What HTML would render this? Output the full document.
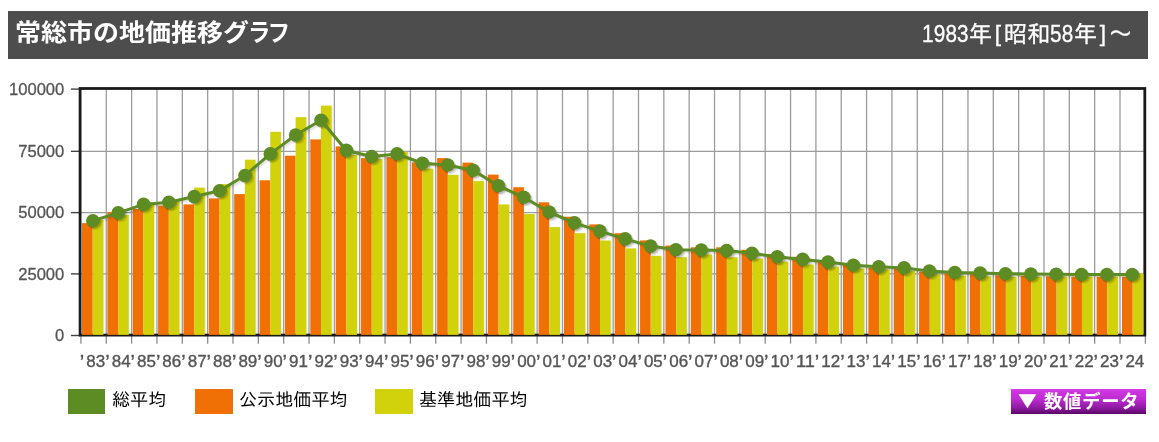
<!DOCTYPE html>
<html lang="ja">
<head>
<meta charset="utf-8">
<title>常総市の地価推移グラフ</title>
<style>
html,body{margin:0;padding:0;background:#fff;}
body{width:1159px;height:442px;position:relative;overflow:hidden;font-family:"Liberation Sans","Noto Sans CJK JP",sans-serif;}
#hd{position:absolute;left:8px;top:11px;width:1140px;height:48px;background:#4d4d4d;color:#fff;}
#hd h2{position:absolute;left:7px;top:-1.6px;transform:scale(1.0,0.925);transform-origin:0 50%;margin:0;font-size:26px;line-height:48px;font-weight:bold;white-space:nowrap;font-family:"Liberation Sans","Noto Sans CJK JP",sans-serif;}
#hd .yr{-webkit-text-stroke:0.35px #fff;position:absolute;right:16px;top:-1px;font-size:23.33px;line-height:48px;white-space:nowrap;font-family:"Liberation Sans","IPAGothic","Noto Sans CJK JP",sans-serif;}
#hd .yr b{font-weight:normal;display:inline-block;white-space:nowrap;}
#hd .yr b.d{font-size:24.4px;transform:scaleX(0.85);transform-origin:0 50%;letter-spacing:0.2px;}
#hd .yr b.k{width:11.67px;text-align:center;font-size:22.6px;position:relative;top:-1.4px;}
.lg{position:absolute;top:389px;height:25px;}
.lg i{position:absolute;left:0;top:0;width:38px;height:25px;display:block;}
.lg span{position:absolute;left:44px;top:-1.5px;line-height:25px;font-size:18.1px;color:#000;white-space:nowrap;font-family:"Liberation Sans","IPAGothic","Noto Sans CJK JP",sans-serif;}
#btn{position:absolute;left:1011px;top:389px;width:135px;height:25px;background:linear-gradient(#d63ee8 0%,#cc34de 12%,#bd2dd0 40%,#a222b6 60%,#8a1a9c 78%,#6a0c78 92%,#5a0666 100%);color:#fff;font-weight:bold;font-size:18.3px;line-height:25px;white-space:nowrap;font-family:"Liberation Sans","Noto Sans CJK JP",sans-serif;}
#btn .t{position:absolute;left:8.3px;top:-1.2px;width:17px;text-align:center;font-size:17px;transform:scale(1.78,1.42);}
#btn .s{position:absolute;left:33px;top:0.2px;letter-spacing:0.8px;}
</style>
</head>
<body>
<div id="hd"><h2>常総市の地価推移グ<span style="display:inline-block;margin-left:-1px;letter-spacing:-3px;transform:scaleX(0.86);transform-origin:0 50%">ラフ</span></h2><div class="yr"><b class="d" style="width:46.67px">1983</b>年<b class="k">[</b>昭和<b class="d" style="width:23.33px">58</b>年<b class="k">]</b>～</div></div>
<svg width="1159" height="442" viewBox="0 0 1159 442" style="position:absolute;left:0;top:0">
<g stroke="#9c9c9c" stroke-width="1.3" fill="none">
<line x1="106.29" y1="88.5" x2="106.29" y2="335.1"/>
<line x1="131.64" y1="88.5" x2="131.64" y2="335.1"/>
<line x1="156.98" y1="88.5" x2="156.98" y2="335.1"/>
<line x1="182.32" y1="88.5" x2="182.32" y2="335.1"/>
<line x1="207.67" y1="88.5" x2="207.67" y2="335.1"/>
<line x1="233.01" y1="88.5" x2="233.01" y2="335.1"/>
<line x1="258.35" y1="88.5" x2="258.35" y2="335.1"/>
<line x1="283.69" y1="88.5" x2="283.69" y2="335.1"/>
<line x1="309.04" y1="88.5" x2="309.04" y2="335.1"/>
<line x1="334.38" y1="88.5" x2="334.38" y2="335.1"/>
<line x1="359.72" y1="88.5" x2="359.72" y2="335.1"/>
<line x1="385.07" y1="88.5" x2="385.07" y2="335.1"/>
<line x1="410.41" y1="88.5" x2="410.41" y2="335.1"/>
<line x1="435.75" y1="88.5" x2="435.75" y2="335.1"/>
<line x1="461.09" y1="88.5" x2="461.09" y2="335.1"/>
<line x1="486.44" y1="88.5" x2="486.44" y2="335.1"/>
<line x1="511.78" y1="88.5" x2="511.78" y2="335.1"/>
<line x1="537.12" y1="88.5" x2="537.12" y2="335.1"/>
<line x1="562.47" y1="88.5" x2="562.47" y2="335.1"/>
<line x1="587.81" y1="88.5" x2="587.81" y2="335.1"/>
<line x1="613.15" y1="88.5" x2="613.15" y2="335.1"/>
<line x1="638.50" y1="88.5" x2="638.50" y2="335.1"/>
<line x1="663.84" y1="88.5" x2="663.84" y2="335.1"/>
<line x1="689.18" y1="88.5" x2="689.18" y2="335.1"/>
<line x1="714.53" y1="88.5" x2="714.53" y2="335.1"/>
<line x1="739.87" y1="88.5" x2="739.87" y2="335.1"/>
<line x1="765.21" y1="88.5" x2="765.21" y2="335.1"/>
<line x1="790.55" y1="88.5" x2="790.55" y2="335.1"/>
<line x1="815.90" y1="88.5" x2="815.90" y2="335.1"/>
<line x1="841.24" y1="88.5" x2="841.24" y2="335.1"/>
<line x1="866.58" y1="88.5" x2="866.58" y2="335.1"/>
<line x1="891.93" y1="88.5" x2="891.93" y2="335.1"/>
<line x1="917.27" y1="88.5" x2="917.27" y2="335.1"/>
<line x1="942.61" y1="88.5" x2="942.61" y2="335.1"/>
<line x1="967.96" y1="88.5" x2="967.96" y2="335.1"/>
<line x1="993.30" y1="88.5" x2="993.30" y2="335.1"/>
<line x1="1018.64" y1="88.5" x2="1018.64" y2="335.1"/>
<line x1="1043.98" y1="88.5" x2="1043.98" y2="335.1"/>
<line x1="1069.33" y1="88.5" x2="1069.33" y2="335.1"/>
<line x1="1094.67" y1="88.5" x2="1094.67" y2="335.1"/>
<line x1="1120.01" y1="88.5" x2="1120.01" y2="335.1"/>
<line x1="80.1" y1="151.30" x2="1144.8" y2="151.30"/>
<line x1="80.1" y1="212.60" x2="1144.8" y2="212.60"/>
<line x1="80.1" y1="273.90" x2="1144.8" y2="273.90"/>
</g>
<g stroke="#8c8c8c" stroke-width="1.3" fill="none">
<line x1="80.95" y1="335.1" x2="80.95" y2="343.7"/>
<line x1="106.29" y1="335.1" x2="106.29" y2="343.7"/>
<line x1="131.64" y1="335.1" x2="131.64" y2="343.7"/>
<line x1="156.98" y1="335.1" x2="156.98" y2="343.7"/>
<line x1="182.32" y1="335.1" x2="182.32" y2="343.7"/>
<line x1="207.67" y1="335.1" x2="207.67" y2="343.7"/>
<line x1="233.01" y1="335.1" x2="233.01" y2="343.7"/>
<line x1="258.35" y1="335.1" x2="258.35" y2="343.7"/>
<line x1="283.69" y1="335.1" x2="283.69" y2="343.7"/>
<line x1="309.04" y1="335.1" x2="309.04" y2="343.7"/>
<line x1="334.38" y1="335.1" x2="334.38" y2="343.7"/>
<line x1="359.72" y1="335.1" x2="359.72" y2="343.7"/>
<line x1="385.07" y1="335.1" x2="385.07" y2="343.7"/>
<line x1="410.41" y1="335.1" x2="410.41" y2="343.7"/>
<line x1="435.75" y1="335.1" x2="435.75" y2="343.7"/>
<line x1="461.09" y1="335.1" x2="461.09" y2="343.7"/>
<line x1="486.44" y1="335.1" x2="486.44" y2="343.7"/>
<line x1="511.78" y1="335.1" x2="511.78" y2="343.7"/>
<line x1="537.12" y1="335.1" x2="537.12" y2="343.7"/>
<line x1="562.47" y1="335.1" x2="562.47" y2="343.7"/>
<line x1="587.81" y1="335.1" x2="587.81" y2="343.7"/>
<line x1="613.15" y1="335.1" x2="613.15" y2="343.7"/>
<line x1="638.50" y1="335.1" x2="638.50" y2="343.7"/>
<line x1="663.84" y1="335.1" x2="663.84" y2="343.7"/>
<line x1="689.18" y1="335.1" x2="689.18" y2="343.7"/>
<line x1="714.53" y1="335.1" x2="714.53" y2="343.7"/>
<line x1="739.87" y1="335.1" x2="739.87" y2="343.7"/>
<line x1="765.21" y1="335.1" x2="765.21" y2="343.7"/>
<line x1="790.55" y1="335.1" x2="790.55" y2="343.7"/>
<line x1="815.90" y1="335.1" x2="815.90" y2="343.7"/>
<line x1="841.24" y1="335.1" x2="841.24" y2="343.7"/>
<line x1="866.58" y1="335.1" x2="866.58" y2="343.7"/>
<line x1="891.93" y1="335.1" x2="891.93" y2="343.7"/>
<line x1="917.27" y1="335.1" x2="917.27" y2="343.7"/>
<line x1="942.61" y1="335.1" x2="942.61" y2="343.7"/>
<line x1="967.96" y1="335.1" x2="967.96" y2="343.7"/>
<line x1="993.30" y1="335.1" x2="993.30" y2="343.7"/>
<line x1="1018.64" y1="335.1" x2="1018.64" y2="343.7"/>
<line x1="1043.98" y1="335.1" x2="1043.98" y2="343.7"/>
<line x1="1069.33" y1="335.1" x2="1069.33" y2="343.7"/>
<line x1="1094.67" y1="335.1" x2="1094.67" y2="343.7"/>
<line x1="1120.01" y1="335.1" x2="1120.01" y2="343.7"/>
<line x1="1145.36" y1="335.1" x2="1145.36" y2="343.7"/>
</g>
<g stroke="#444" stroke-width="1.4" fill="none">
<line x1="70.9" y1="89.10" x2="80.1" y2="89.10"/>
<line x1="70.9" y1="151.30" x2="80.1" y2="151.30"/>
<line x1="70.9" y1="212.60" x2="80.1" y2="212.60"/>
<line x1="70.9" y1="273.90" x2="80.1" y2="273.90"/>
<line x1="70.9" y1="335.50" x2="80.1" y2="335.50"/>
</g>
<rect x="80.10" y="88.50" width="1064.70" height="246.60" fill="none" stroke="#1a1a1a" stroke-width="2.8"/>
<g>
<rect x="93.90" y="221.0" width="10.70" height="113.9" fill="#000" opacity="0.06"/>
<rect x="82.00" y="223.1" width="10.70" height="111.8" fill="#f07006"/>
<rect x="92.70" y="219.8" width="10.70" height="115.1" fill="#d2d20c"/>
<rect x="119.27" y="216.1" width="10.70" height="118.8" fill="#000" opacity="0.06"/>
<rect x="107.37" y="212.0" width="10.70" height="122.9" fill="#f07006"/>
<rect x="118.07" y="214.9" width="10.70" height="120.0" fill="#d2d20c"/>
<rect x="144.63" y="203.8" width="10.70" height="131.1" fill="#000" opacity="0.06"/>
<rect x="132.73" y="209.0" width="10.70" height="125.9" fill="#f07006"/>
<rect x="143.43" y="202.6" width="10.70" height="132.3" fill="#d2d20c"/>
<rect x="170.00" y="201.1" width="10.70" height="133.8" fill="#000" opacity="0.06"/>
<rect x="158.10" y="205.7" width="10.70" height="129.2" fill="#f07006"/>
<rect x="168.80" y="199.9" width="10.70" height="135.0" fill="#d2d20c"/>
<rect x="195.36" y="188.8" width="10.70" height="146.1" fill="#000" opacity="0.06"/>
<rect x="183.46" y="204.4" width="10.70" height="130.5" fill="#f07006"/>
<rect x="194.16" y="187.6" width="10.70" height="147.3" fill="#d2d20c"/>
<rect x="220.73" y="185.3" width="10.70" height="149.6" fill="#000" opacity="0.06"/>
<rect x="208.83" y="198.4" width="10.70" height="136.5" fill="#f07006"/>
<rect x="219.53" y="184.1" width="10.70" height="150.8" fill="#d2d20c"/>
<rect x="246.10" y="160.9" width="10.70" height="174.0" fill="#000" opacity="0.06"/>
<rect x="234.20" y="194.1" width="10.70" height="140.8" fill="#f07006"/>
<rect x="244.90" y="159.7" width="10.70" height="175.2" fill="#d2d20c"/>
<rect x="271.46" y="133.0" width="10.70" height="201.9" fill="#000" opacity="0.06"/>
<rect x="259.56" y="180.3" width="10.70" height="154.6" fill="#f07006"/>
<rect x="270.26" y="131.8" width="10.70" height="203.1" fill="#d2d20c"/>
<rect x="296.83" y="118.3" width="10.70" height="216.6" fill="#000" opacity="0.06"/>
<rect x="284.93" y="155.7" width="10.70" height="179.2" fill="#f07006"/>
<rect x="295.63" y="117.1" width="10.70" height="217.8" fill="#d2d20c"/>
<rect x="322.19" y="106.8" width="10.70" height="228.1" fill="#000" opacity="0.06"/>
<rect x="310.29" y="139.4" width="10.70" height="195.5" fill="#f07006"/>
<rect x="320.99" y="105.6" width="10.70" height="229.3" fill="#d2d20c"/>
<rect x="347.56" y="156.2" width="10.70" height="178.7" fill="#000" opacity="0.06"/>
<rect x="335.66" y="146.4" width="10.70" height="188.5" fill="#f07006"/>
<rect x="346.36" y="155.0" width="10.70" height="179.9" fill="#d2d20c"/>
<rect x="372.93" y="160.2" width="10.70" height="174.7" fill="#000" opacity="0.06"/>
<rect x="361.03" y="158.1" width="10.70" height="176.8" fill="#f07006"/>
<rect x="371.73" y="159.0" width="10.70" height="175.9" fill="#d2d20c"/>
<rect x="398.29" y="152.9" width="10.70" height="182.0" fill="#000" opacity="0.06"/>
<rect x="386.39" y="157.2" width="10.70" height="177.7" fill="#f07006"/>
<rect x="397.09" y="151.7" width="10.70" height="183.2" fill="#d2d20c"/>
<rect x="423.66" y="169.8" width="10.70" height="165.1" fill="#000" opacity="0.06"/>
<rect x="411.76" y="162.3" width="10.70" height="172.6" fill="#f07006"/>
<rect x="422.46" y="168.6" width="10.70" height="166.3" fill="#d2d20c"/>
<rect x="449.02" y="176.0" width="10.70" height="158.9" fill="#000" opacity="0.06"/>
<rect x="437.12" y="158.1" width="10.70" height="176.8" fill="#f07006"/>
<rect x="447.82" y="174.8" width="10.70" height="160.1" fill="#d2d20c"/>
<rect x="474.39" y="182.3" width="10.70" height="152.6" fill="#000" opacity="0.06"/>
<rect x="462.49" y="162.6" width="10.70" height="172.3" fill="#f07006"/>
<rect x="473.19" y="181.1" width="10.70" height="153.8" fill="#d2d20c"/>
<rect x="499.76" y="205.6" width="10.70" height="129.3" fill="#000" opacity="0.06"/>
<rect x="487.86" y="174.6" width="10.70" height="160.3" fill="#f07006"/>
<rect x="498.56" y="204.4" width="10.70" height="130.5" fill="#d2d20c"/>
<rect x="525.12" y="215.2" width="10.70" height="119.7" fill="#000" opacity="0.06"/>
<rect x="513.22" y="187.2" width="10.70" height="147.7" fill="#f07006"/>
<rect x="523.92" y="214.0" width="10.70" height="120.9" fill="#d2d20c"/>
<rect x="550.49" y="228.3" width="10.70" height="106.6" fill="#000" opacity="0.06"/>
<rect x="538.59" y="202.3" width="10.70" height="132.6" fill="#f07006"/>
<rect x="549.29" y="227.1" width="10.70" height="107.8" fill="#d2d20c"/>
<rect x="575.85" y="234.3" width="10.70" height="100.6" fill="#000" opacity="0.06"/>
<rect x="563.95" y="216.7" width="10.70" height="118.2" fill="#f07006"/>
<rect x="574.65" y="233.1" width="10.70" height="101.8" fill="#d2d20c"/>
<rect x="601.22" y="241.7" width="10.70" height="93.2" fill="#000" opacity="0.06"/>
<rect x="589.32" y="224.4" width="10.70" height="110.5" fill="#f07006"/>
<rect x="600.02" y="240.5" width="10.70" height="94.4" fill="#d2d20c"/>
<rect x="626.59" y="249.6" width="10.70" height="85.3" fill="#000" opacity="0.06"/>
<rect x="614.69" y="233.2" width="10.70" height="101.7" fill="#f07006"/>
<rect x="625.39" y="248.4" width="10.70" height="86.5" fill="#d2d20c"/>
<rect x="651.95" y="257.0" width="10.70" height="77.9" fill="#000" opacity="0.06"/>
<rect x="640.05" y="240.4" width="10.70" height="94.5" fill="#f07006"/>
<rect x="650.75" y="255.8" width="10.70" height="79.1" fill="#d2d20c"/>
<rect x="677.32" y="258.4" width="10.70" height="76.5" fill="#000" opacity="0.06"/>
<rect x="665.42" y="245.5" width="10.70" height="89.4" fill="#f07006"/>
<rect x="676.12" y="257.2" width="10.70" height="77.7" fill="#d2d20c"/>
<rect x="702.68" y="255.7" width="10.70" height="79.2" fill="#000" opacity="0.06"/>
<rect x="690.78" y="247.3" width="10.70" height="87.6" fill="#f07006"/>
<rect x="701.48" y="254.5" width="10.70" height="80.4" fill="#d2d20c"/>
<rect x="728.05" y="258.4" width="10.70" height="76.5" fill="#000" opacity="0.06"/>
<rect x="716.15" y="247.3" width="10.70" height="87.6" fill="#f07006"/>
<rect x="726.85" y="257.2" width="10.70" height="77.7" fill="#d2d20c"/>
<rect x="753.42" y="259.7" width="10.70" height="75.2" fill="#000" opacity="0.06"/>
<rect x="741.52" y="249.8" width="10.70" height="85.1" fill="#f07006"/>
<rect x="752.22" y="258.5" width="10.70" height="76.4" fill="#d2d20c"/>
<rect x="778.78" y="262.7" width="10.70" height="72.2" fill="#000" opacity="0.06"/>
<rect x="766.88" y="254.0" width="10.70" height="80.9" fill="#f07006"/>
<rect x="777.58" y="261.5" width="10.70" height="73.4" fill="#d2d20c"/>
<rect x="804.15" y="265.7" width="10.70" height="69.2" fill="#000" opacity="0.06"/>
<rect x="792.25" y="256.8" width="10.70" height="78.1" fill="#f07006"/>
<rect x="802.95" y="264.5" width="10.70" height="70.4" fill="#d2d20c"/>
<rect x="829.51" y="267.9" width="10.70" height="67.0" fill="#000" opacity="0.06"/>
<rect x="817.61" y="260.3" width="10.70" height="74.6" fill="#f07006"/>
<rect x="828.31" y="266.7" width="10.70" height="68.2" fill="#d2d20c"/>
<rect x="854.88" y="269.7" width="10.70" height="65.2" fill="#000" opacity="0.06"/>
<rect x="842.98" y="264.9" width="10.70" height="70.0" fill="#f07006"/>
<rect x="853.68" y="268.5" width="10.70" height="66.4" fill="#d2d20c"/>
<rect x="880.25" y="270.6" width="10.70" height="64.3" fill="#000" opacity="0.06"/>
<rect x="868.35" y="267.6" width="10.70" height="67.3" fill="#f07006"/>
<rect x="879.05" y="269.4" width="10.70" height="65.5" fill="#d2d20c"/>
<rect x="905.61" y="272.4" width="10.70" height="62.5" fill="#000" opacity="0.06"/>
<rect x="893.71" y="268.5" width="10.70" height="66.4" fill="#f07006"/>
<rect x="904.41" y="271.2" width="10.70" height="63.7" fill="#d2d20c"/>
<rect x="930.98" y="275.5" width="10.70" height="59.4" fill="#000" opacity="0.06"/>
<rect x="919.08" y="271.7" width="10.70" height="63.2" fill="#f07006"/>
<rect x="929.78" y="274.3" width="10.70" height="60.6" fill="#d2d20c"/>
<rect x="956.34" y="276.8" width="10.70" height="58.1" fill="#000" opacity="0.06"/>
<rect x="944.44" y="273.5" width="10.70" height="61.4" fill="#f07006"/>
<rect x="955.14" y="275.6" width="10.70" height="59.3" fill="#d2d20c"/>
<rect x="981.71" y="277.5" width="10.70" height="57.4" fill="#000" opacity="0.06"/>
<rect x="969.81" y="274.2" width="10.70" height="60.7" fill="#f07006"/>
<rect x="980.51" y="276.3" width="10.70" height="58.6" fill="#d2d20c"/>
<rect x="1007.08" y="278.0" width="10.70" height="56.9" fill="#000" opacity="0.06"/>
<rect x="995.18" y="275.2" width="10.70" height="59.7" fill="#f07006"/>
<rect x="1005.88" y="276.8" width="10.70" height="58.1" fill="#d2d20c"/>
<rect x="1032.44" y="278.0" width="10.70" height="56.9" fill="#000" opacity="0.06"/>
<rect x="1020.54" y="275.8" width="10.70" height="59.1" fill="#f07006"/>
<rect x="1031.24" y="276.8" width="10.70" height="58.1" fill="#d2d20c"/>
<rect x="1057.81" y="277.8" width="10.70" height="57.1" fill="#000" opacity="0.06"/>
<rect x="1045.91" y="276.3" width="10.70" height="58.6" fill="#f07006"/>
<rect x="1056.61" y="276.6" width="10.70" height="58.3" fill="#d2d20c"/>
<rect x="1083.17" y="277.8" width="10.70" height="57.1" fill="#000" opacity="0.06"/>
<rect x="1071.27" y="276.7" width="10.70" height="58.2" fill="#f07006"/>
<rect x="1081.97" y="276.6" width="10.70" height="58.3" fill="#d2d20c"/>
<rect x="1108.54" y="277.8" width="10.70" height="57.1" fill="#000" opacity="0.06"/>
<rect x="1096.64" y="276.7" width="10.70" height="58.2" fill="#f07006"/>
<rect x="1107.34" y="276.6" width="10.70" height="58.3" fill="#d2d20c"/>
<rect x="1133.91" y="274.6" width="10.70" height="60.3" fill="#000" opacity="0.06"/>
<rect x="1122.01" y="276.7" width="10.70" height="58.2" fill="#f07006"/>
<rect x="1132.71" y="273.4" width="10.70" height="61.5" fill="#d2d20c"/>
</g>
<g transform="translate(1.3,1.3)" fill="#000" stroke="#000">
<polyline points="92.85,220.70 118.20,212.90 143.55,204.40 168.90,202.30 194.25,196.60 219.60,190.80 244.95,175.50 270.30,153.90 295.65,135.00 321.00,120.20 346.35,150.40 371.70,156.50 397.05,153.90 422.40,163.20 447.75,165.00 473.10,170.20 498.45,185.80 523.80,197.30 549.15,212.00 574.50,222.90 599.85,231.10 625.20,238.90 650.55,246.10 675.90,249.70 701.25,250.10 726.60,250.60 751.95,253.30 777.30,256.80 802.65,259.40 828.00,262.10 853.35,265.20 878.70,266.70 904.05,267.90 929.40,271.00 954.75,272.50 980.10,273.10 1005.45,273.70 1030.80,274.10 1056.15,274.30 1081.50,274.45 1106.85,274.45 1132.20,274.45" fill="none" stroke-width="3" stroke-linejoin="round" opacity="0.08"/>
<g opacity="0.16" stroke="none">
<circle cx="92.85" cy="220.70" r="6.8"/>
<circle cx="118.20" cy="212.90" r="6.8"/>
<circle cx="143.55" cy="204.40" r="6.8"/>
<circle cx="168.90" cy="202.30" r="6.8"/>
<circle cx="194.25" cy="196.60" r="6.8"/>
<circle cx="219.60" cy="190.80" r="6.8"/>
<circle cx="244.95" cy="175.50" r="6.8"/>
<circle cx="270.30" cy="153.90" r="6.8"/>
<circle cx="295.65" cy="135.00" r="6.8"/>
<circle cx="321.00" cy="120.20" r="6.8"/>
<circle cx="346.35" cy="150.40" r="6.8"/>
<circle cx="371.70" cy="156.50" r="6.8"/>
<circle cx="397.05" cy="153.90" r="6.8"/>
<circle cx="422.40" cy="163.20" r="6.8"/>
<circle cx="447.75" cy="165.00" r="6.8"/>
<circle cx="473.10" cy="170.20" r="6.8"/>
<circle cx="498.45" cy="185.80" r="6.8"/>
<circle cx="523.80" cy="197.30" r="6.8"/>
<circle cx="549.15" cy="212.00" r="6.8"/>
<circle cx="574.50" cy="222.90" r="6.8"/>
<circle cx="599.85" cy="231.10" r="6.8"/>
<circle cx="625.20" cy="238.90" r="6.8"/>
<circle cx="650.55" cy="246.10" r="6.8"/>
<circle cx="675.90" cy="249.70" r="6.8"/>
<circle cx="701.25" cy="250.10" r="6.8"/>
<circle cx="726.60" cy="250.60" r="6.8"/>
<circle cx="751.95" cy="253.30" r="6.8"/>
<circle cx="777.30" cy="256.80" r="6.8"/>
<circle cx="802.65" cy="259.40" r="6.8"/>
<circle cx="828.00" cy="262.10" r="6.8"/>
<circle cx="853.35" cy="265.20" r="6.8"/>
<circle cx="878.70" cy="266.70" r="6.8"/>
<circle cx="904.05" cy="267.90" r="6.8"/>
<circle cx="929.40" cy="271.00" r="6.8"/>
<circle cx="954.75" cy="272.50" r="6.8"/>
<circle cx="980.10" cy="273.10" r="6.8"/>
<circle cx="1005.45" cy="273.70" r="6.8"/>
<circle cx="1030.80" cy="274.10" r="6.8"/>
<circle cx="1056.15" cy="274.30" r="6.8"/>
<circle cx="1081.50" cy="274.45" r="6.8"/>
<circle cx="1106.85" cy="274.45" r="6.8"/>
<circle cx="1132.20" cy="274.45" r="6.8"/>
</g></g>
<g transform="translate(2.5,2.5)" fill="#000" stroke="#000">
<polyline points="92.85,220.70 118.20,212.90 143.55,204.40 168.90,202.30 194.25,196.60 219.60,190.80 244.95,175.50 270.30,153.90 295.65,135.00 321.00,120.20 346.35,150.40 371.70,156.50 397.05,153.90 422.40,163.20 447.75,165.00 473.10,170.20 498.45,185.80 523.80,197.30 549.15,212.00 574.50,222.90 599.85,231.10 625.20,238.90 650.55,246.10 675.90,249.70 701.25,250.10 726.60,250.60 751.95,253.30 777.30,256.80 802.65,259.40 828.00,262.10 853.35,265.20 878.70,266.70 904.05,267.90 929.40,271.00 954.75,272.50 980.10,273.10 1005.45,273.70 1030.80,274.10 1056.15,274.30 1081.50,274.45 1106.85,274.45 1132.20,274.45" fill="none" stroke-width="3" stroke-linejoin="round" opacity="0.05"/>
<g opacity="0.10" stroke="none">
<circle cx="92.85" cy="220.70" r="6.8"/>
<circle cx="118.20" cy="212.90" r="6.8"/>
<circle cx="143.55" cy="204.40" r="6.8"/>
<circle cx="168.90" cy="202.30" r="6.8"/>
<circle cx="194.25" cy="196.60" r="6.8"/>
<circle cx="219.60" cy="190.80" r="6.8"/>
<circle cx="244.95" cy="175.50" r="6.8"/>
<circle cx="270.30" cy="153.90" r="6.8"/>
<circle cx="295.65" cy="135.00" r="6.8"/>
<circle cx="321.00" cy="120.20" r="6.8"/>
<circle cx="346.35" cy="150.40" r="6.8"/>
<circle cx="371.70" cy="156.50" r="6.8"/>
<circle cx="397.05" cy="153.90" r="6.8"/>
<circle cx="422.40" cy="163.20" r="6.8"/>
<circle cx="447.75" cy="165.00" r="6.8"/>
<circle cx="473.10" cy="170.20" r="6.8"/>
<circle cx="498.45" cy="185.80" r="6.8"/>
<circle cx="523.80" cy="197.30" r="6.8"/>
<circle cx="549.15" cy="212.00" r="6.8"/>
<circle cx="574.50" cy="222.90" r="6.8"/>
<circle cx="599.85" cy="231.10" r="6.8"/>
<circle cx="625.20" cy="238.90" r="6.8"/>
<circle cx="650.55" cy="246.10" r="6.8"/>
<circle cx="675.90" cy="249.70" r="6.8"/>
<circle cx="701.25" cy="250.10" r="6.8"/>
<circle cx="726.60" cy="250.60" r="6.8"/>
<circle cx="751.95" cy="253.30" r="6.8"/>
<circle cx="777.30" cy="256.80" r="6.8"/>
<circle cx="802.65" cy="259.40" r="6.8"/>
<circle cx="828.00" cy="262.10" r="6.8"/>
<circle cx="853.35" cy="265.20" r="6.8"/>
<circle cx="878.70" cy="266.70" r="6.8"/>
<circle cx="904.05" cy="267.90" r="6.8"/>
<circle cx="929.40" cy="271.00" r="6.8"/>
<circle cx="954.75" cy="272.50" r="6.8"/>
<circle cx="980.10" cy="273.10" r="6.8"/>
<circle cx="1005.45" cy="273.70" r="6.8"/>
<circle cx="1030.80" cy="274.10" r="6.8"/>
<circle cx="1056.15" cy="274.30" r="6.8"/>
<circle cx="1081.50" cy="274.45" r="6.8"/>
<circle cx="1106.85" cy="274.45" r="6.8"/>
<circle cx="1132.20" cy="274.45" r="6.8"/>
</g></g>
<polyline points="92.85,220.70 118.20,212.90 143.55,204.40 168.90,202.30 194.25,196.60 219.60,190.80 244.95,175.50 270.30,153.90 295.65,135.00 321.00,120.20 346.35,150.40 371.70,156.50 397.05,153.90 422.40,163.20 447.75,165.00 473.10,170.20 498.45,185.80 523.80,197.30 549.15,212.00 574.50,222.90 599.85,231.10 625.20,238.90 650.55,246.10 675.90,249.70 701.25,250.10 726.60,250.60 751.95,253.30 777.30,256.80 802.65,259.40 828.00,262.10 853.35,265.20 878.70,266.70 904.05,267.90 929.40,271.00 954.75,272.50 980.10,273.10 1005.45,273.70 1030.80,274.10 1056.15,274.30 1081.50,274.45 1106.85,274.45 1132.20,274.45" fill="none" stroke="#5e8c24" stroke-width="3.05" stroke-linejoin="round"/>
<g fill="#5e8c24">
<circle cx="92.85" cy="220.70" r="6.8"/>
<circle cx="118.20" cy="212.90" r="6.8"/>
<circle cx="143.55" cy="204.40" r="6.8"/>
<circle cx="168.90" cy="202.30" r="6.8"/>
<circle cx="194.25" cy="196.60" r="6.8"/>
<circle cx="219.60" cy="190.80" r="6.8"/>
<circle cx="244.95" cy="175.50" r="6.8"/>
<circle cx="270.30" cy="153.90" r="6.8"/>
<circle cx="295.65" cy="135.00" r="6.8"/>
<circle cx="321.00" cy="120.20" r="6.8"/>
<circle cx="346.35" cy="150.40" r="6.8"/>
<circle cx="371.70" cy="156.50" r="6.8"/>
<circle cx="397.05" cy="153.90" r="6.8"/>
<circle cx="422.40" cy="163.20" r="6.8"/>
<circle cx="447.75" cy="165.00" r="6.8"/>
<circle cx="473.10" cy="170.20" r="6.8"/>
<circle cx="498.45" cy="185.80" r="6.8"/>
<circle cx="523.80" cy="197.30" r="6.8"/>
<circle cx="549.15" cy="212.00" r="6.8"/>
<circle cx="574.50" cy="222.90" r="6.8"/>
<circle cx="599.85" cy="231.10" r="6.8"/>
<circle cx="625.20" cy="238.90" r="6.8"/>
<circle cx="650.55" cy="246.10" r="6.8"/>
<circle cx="675.90" cy="249.70" r="6.8"/>
<circle cx="701.25" cy="250.10" r="6.8"/>
<circle cx="726.60" cy="250.60" r="6.8"/>
<circle cx="751.95" cy="253.30" r="6.8"/>
<circle cx="777.30" cy="256.80" r="6.8"/>
<circle cx="802.65" cy="259.40" r="6.8"/>
<circle cx="828.00" cy="262.10" r="6.8"/>
<circle cx="853.35" cy="265.20" r="6.8"/>
<circle cx="878.70" cy="266.70" r="6.8"/>
<circle cx="904.05" cy="267.90" r="6.8"/>
<circle cx="929.40" cy="271.00" r="6.8"/>
<circle cx="954.75" cy="272.50" r="6.8"/>
<circle cx="980.10" cy="273.10" r="6.8"/>
<circle cx="1005.45" cy="273.70" r="6.8"/>
<circle cx="1030.80" cy="274.10" r="6.8"/>
<circle cx="1056.15" cy="274.30" r="6.8"/>
<circle cx="1081.50" cy="274.45" r="6.8"/>
<circle cx="1106.85" cy="274.45" r="6.8"/>
<circle cx="1132.20" cy="274.45" r="6.8"/>
</g>
<g font-family="'Liberation Sans', sans-serif" font-size="17.2" fill="#555" stroke="#555" stroke-width="0.3">
<text x="55.08" y="341.3" textLength="9.22" lengthAdjust="spacingAndGlyphs">0</text>
<text x="18.20" y="279.7" textLength="46.10" lengthAdjust="spacingAndGlyphs">25000</text>
<text x="18.20" y="218.4" textLength="46.10" lengthAdjust="spacingAndGlyphs">50000</text>
<text x="18.20" y="157.1" textLength="46.10" lengthAdjust="spacingAndGlyphs">75000</text>
<text x="8.98" y="94.9" textLength="55.32" lengthAdjust="spacingAndGlyphs">100000</text>
</g>
<g font-family="'Liberation Sans', sans-serif" fill="#555" stroke="#555" stroke-width="0.35">
<text x="79.85" y="368.6" font-size="20">’</text><text x="86.35" y="367.3" font-size="16" textLength="18.9" lengthAdjust="spacingAndGlyphs">83</text>
<text x="105.19" y="368.6" font-size="20">’</text><text x="111.69" y="367.3" font-size="16" textLength="18.9" lengthAdjust="spacingAndGlyphs">84</text>
<text x="130.54" y="368.6" font-size="20">’</text><text x="137.04" y="367.3" font-size="16" textLength="18.9" lengthAdjust="spacingAndGlyphs">85</text>
<text x="155.88" y="368.6" font-size="20">’</text><text x="162.38" y="367.3" font-size="16" textLength="18.9" lengthAdjust="spacingAndGlyphs">86</text>
<text x="181.22" y="368.6" font-size="20">’</text><text x="187.72" y="367.3" font-size="16" textLength="18.9" lengthAdjust="spacingAndGlyphs">87</text>
<text x="206.57" y="368.6" font-size="20">’</text><text x="213.07" y="367.3" font-size="16" textLength="18.9" lengthAdjust="spacingAndGlyphs">88</text>
<text x="231.91" y="368.6" font-size="20">’</text><text x="238.41" y="367.3" font-size="16" textLength="18.9" lengthAdjust="spacingAndGlyphs">89</text>
<text x="257.25" y="368.6" font-size="20">’</text><text x="263.75" y="367.3" font-size="16" textLength="18.9" lengthAdjust="spacingAndGlyphs">90</text>
<text x="282.59" y="368.6" font-size="20">’</text><text x="289.09" y="367.3" font-size="16" textLength="18.9" lengthAdjust="spacingAndGlyphs">91</text>
<text x="307.94" y="368.6" font-size="20">’</text><text x="314.44" y="367.3" font-size="16" textLength="18.9" lengthAdjust="spacingAndGlyphs">92</text>
<text x="333.28" y="368.6" font-size="20">’</text><text x="339.78" y="367.3" font-size="16" textLength="18.9" lengthAdjust="spacingAndGlyphs">93</text>
<text x="358.62" y="368.6" font-size="20">’</text><text x="365.12" y="367.3" font-size="16" textLength="18.9" lengthAdjust="spacingAndGlyphs">94</text>
<text x="383.97" y="368.6" font-size="20">’</text><text x="390.47" y="367.3" font-size="16" textLength="18.9" lengthAdjust="spacingAndGlyphs">95</text>
<text x="409.31" y="368.6" font-size="20">’</text><text x="415.81" y="367.3" font-size="16" textLength="18.9" lengthAdjust="spacingAndGlyphs">96</text>
<text x="434.65" y="368.6" font-size="20">’</text><text x="441.15" y="367.3" font-size="16" textLength="18.9" lengthAdjust="spacingAndGlyphs">97</text>
<text x="459.99" y="368.6" font-size="20">’</text><text x="466.49" y="367.3" font-size="16" textLength="18.9" lengthAdjust="spacingAndGlyphs">98</text>
<text x="485.34" y="368.6" font-size="20">’</text><text x="491.84" y="367.3" font-size="16" textLength="18.9" lengthAdjust="spacingAndGlyphs">99</text>
<text x="510.68" y="368.6" font-size="20">’</text><text x="517.18" y="367.3" font-size="16" textLength="18.9" lengthAdjust="spacingAndGlyphs">00</text>
<text x="536.02" y="368.6" font-size="20">’</text><text x="542.52" y="367.3" font-size="16" textLength="18.9" lengthAdjust="spacingAndGlyphs">01</text>
<text x="561.37" y="368.6" font-size="20">’</text><text x="567.87" y="367.3" font-size="16" textLength="18.9" lengthAdjust="spacingAndGlyphs">02</text>
<text x="586.71" y="368.6" font-size="20">’</text><text x="593.21" y="367.3" font-size="16" textLength="18.9" lengthAdjust="spacingAndGlyphs">03</text>
<text x="612.05" y="368.6" font-size="20">’</text><text x="618.55" y="367.3" font-size="16" textLength="18.9" lengthAdjust="spacingAndGlyphs">04</text>
<text x="637.40" y="368.6" font-size="20">’</text><text x="643.90" y="367.3" font-size="16" textLength="18.9" lengthAdjust="spacingAndGlyphs">05</text>
<text x="662.74" y="368.6" font-size="20">’</text><text x="669.24" y="367.3" font-size="16" textLength="18.9" lengthAdjust="spacingAndGlyphs">06</text>
<text x="688.08" y="368.6" font-size="20">’</text><text x="694.58" y="367.3" font-size="16" textLength="18.9" lengthAdjust="spacingAndGlyphs">07</text>
<text x="713.43" y="368.6" font-size="20">’</text><text x="719.93" y="367.3" font-size="16" textLength="18.9" lengthAdjust="spacingAndGlyphs">08</text>
<text x="738.77" y="368.6" font-size="20">’</text><text x="745.27" y="367.3" font-size="16" textLength="18.9" lengthAdjust="spacingAndGlyphs">09</text>
<text x="764.11" y="368.6" font-size="20">’</text><text x="770.61" y="367.3" font-size="16" textLength="18.9" lengthAdjust="spacingAndGlyphs">10</text>
<text x="789.45" y="368.6" font-size="20">’</text><text x="795.95" y="367.3" font-size="16" textLength="18.9" lengthAdjust="spacingAndGlyphs">11</text>
<text x="814.80" y="368.6" font-size="20">’</text><text x="821.30" y="367.3" font-size="16" textLength="18.9" lengthAdjust="spacingAndGlyphs">12</text>
<text x="840.14" y="368.6" font-size="20">’</text><text x="846.64" y="367.3" font-size="16" textLength="18.9" lengthAdjust="spacingAndGlyphs">13</text>
<text x="865.48" y="368.6" font-size="20">’</text><text x="871.98" y="367.3" font-size="16" textLength="18.9" lengthAdjust="spacingAndGlyphs">14</text>
<text x="890.83" y="368.6" font-size="20">’</text><text x="897.33" y="367.3" font-size="16" textLength="18.9" lengthAdjust="spacingAndGlyphs">15</text>
<text x="916.17" y="368.6" font-size="20">’</text><text x="922.67" y="367.3" font-size="16" textLength="18.9" lengthAdjust="spacingAndGlyphs">16</text>
<text x="941.51" y="368.6" font-size="20">’</text><text x="948.01" y="367.3" font-size="16" textLength="18.9" lengthAdjust="spacingAndGlyphs">17</text>
<text x="966.86" y="368.6" font-size="20">’</text><text x="973.36" y="367.3" font-size="16" textLength="18.9" lengthAdjust="spacingAndGlyphs">18</text>
<text x="992.20" y="368.6" font-size="20">’</text><text x="998.70" y="367.3" font-size="16" textLength="18.9" lengthAdjust="spacingAndGlyphs">19</text>
<text x="1017.54" y="368.6" font-size="20">’</text><text x="1024.04" y="367.3" font-size="16" textLength="18.9" lengthAdjust="spacingAndGlyphs">20</text>
<text x="1042.88" y="368.6" font-size="20">’</text><text x="1049.38" y="367.3" font-size="16" textLength="18.9" lengthAdjust="spacingAndGlyphs">21</text>
<text x="1068.23" y="368.6" font-size="20">’</text><text x="1074.73" y="367.3" font-size="16" textLength="18.9" lengthAdjust="spacingAndGlyphs">22</text>
<text x="1093.57" y="368.6" font-size="20">’</text><text x="1100.07" y="367.3" font-size="16" textLength="18.9" lengthAdjust="spacingAndGlyphs">23</text>
<text x="1118.91" y="368.6" font-size="20">’</text><text x="1125.41" y="367.3" font-size="16" textLength="18.9" lengthAdjust="spacingAndGlyphs">24</text>
</g>
</svg>
<div class="lg" style="left:68px"><i style="background:#5e8c24;width:37px"></i><span>総平均</span></div>
<div class="lg" style="left:195px"><i style="background:#f07006"></i><span>公示地価平均</span></div>
<div class="lg" style="left:375px"><i style="background:#d2d20c"></i><span>基準地価平均</span></div>
<div id="btn"><span class="t">▼</span><span class="s">数値データ</span></div>
</body>
</html>
